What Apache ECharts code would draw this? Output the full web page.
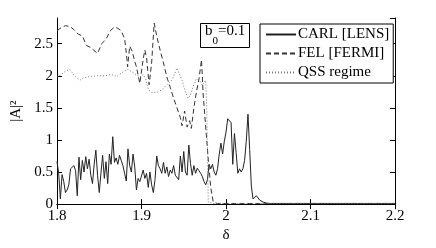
<!DOCTYPE html>
<html><head><meta charset="utf-8">
<script src="https://cdn.jsdelivr.net/npm/echarts@6/dist/echarts.min.js"></script>
<style>html,body{margin:0;padding:0;background:#fff}#c{width:436px;height:248px}</style>
</head><body><div id="c"></div>
<script>
// CARL [LENS]: values at delta = 1.800, 1.802, ... 2.200 (step 0.002)
const carlStart = 1.8;
const carlStep = 0.002;
const carlValues = [
0.66,0.48,0.08,0.46,0.35,0.18,0.22,0.30,0.55,0.58,
0.60,0.52,0.13,0.73,0.38,0.68,0.50,0.74,0.55,0.70,
0.45,0.32,0.62,0.84,0.45,0.18,0.48,0.76,0.40,0.66,
0.32,0.78,0.62,1.05,0.65,0.72,0.62,0.76,0.68,0.60,
0.48,0.36,0.86,0.60,0.50,0.78,0.58,0.22,0.40,0.35,
0.35,0.53,0.40,0.48,0.26,0.50,0.30,0.18,0.38,0.75,
0.60,0.55,0.48,0.65,0.48,0.58,0.43,0.53,0.48,0.60,
0.45,0.42,0.38,0.75,0.50,0.82,0.50,0.45,0.92,0.63,
0.45,0.60,0.48,0.56,0.52,0.48,0.43,0.35,0.30,0.38,
0.62,0.55,0.62,0.50,0.45,0.55,0.78,0.95,0.78,0.98,
1.12,1.33,1.32,1.27,0.62,1.10,0.80,0.48,0.55,0.50,
0.55,0.68,0.98,1.40,0.85,0.28,0.08,0.10,0.13,0.10,
0.06,0.04,0.03,0.02,0.015,0.01,0.01,0.01,0.01,0.01,
0.01,0.01,0.01,0.01,0.01,0.01,0.01,0.01,0.01,0.01,
0.01,0.01,0.01,0.01,0.01,0.01,0.01,0.01,0.01,0.01,
0.01,0.01,0.01,0.01,0.01,0.01,0.01,0.01,0.01,0.01,
0.01,0.01,0.01,0.01,0.01,0.01,0.01,0.01,0.01,0.01,
0.01,0.01,0.01,0.01,0.01,0.01,0.01,0.01,0.01,0.01,
0.01,0.01,0.01,0.01,0.01,0.01,0.01,0.01,0.01,0.01,
0.01,0.01,0.01,0.01,0.01,0.01,0.01,0.01,0.01,0.01,
0.01
];
// FEL [FERMI]: [delta, |A|^2]
const felPoints = [
[1.800,2.70],[1.805,2.75],[1.810,2.78],[1.815,2.77],[1.820,2.72],[1.825,2.65],
[1.830,2.62],[1.835,2.47],[1.840,2.44],[1.845,2.38],[1.848,2.35],[1.853,2.50],
[1.858,2.57],[1.863,2.70],[1.868,2.76],[1.872,2.74],[1.876,2.70],[1.880,2.58],
[1.882,2.36],[1.8836,2.14],[1.886,2.46],[1.889,2.38],[1.892,2.22],[1.894,2.14],
[1.898,1.88],[1.902,2.26],[1.904,2.40],[1.906,2.28],[1.909,1.86],[1.912,2.20],
[1.915,2.82],[1.918,2.62],[1.922,2.40],[1.926,2.20],[1.930,1.98],[1.934,1.82],
[1.938,1.65],[1.942,1.50],[1.946,1.35],[1.948,1.22],[1.951,1.45],[1.954,1.20],
[1.957,1.30],[1.959,1.18],[1.962,1.50],[1.965,1.75],[1.968,1.95],[1.971,2.25],
[1.973,1.70],[1.976,1.20],[1.979,0.70],[1.982,0.25],[1.985,0.03],[1.990,0.01],
[2.200,0.01]
];
// QSS regime: [delta, |A|^2]
const qssPoints = [
[1.800,1.98],[1.805,2.02],[1.810,2.07],[1.815,2.10],[1.819,2.03],[1.823,1.97],
[1.827,1.93],[1.832,1.97],[1.840,1.99],[1.848,2.00],[1.857,2.00],[1.864,2.02],
[1.871,1.99],[1.878,2.06],[1.884,2.10],[1.892,2.03],[1.898,1.98],[1.902,2.02],
[1.905,1.95],[1.908,1.79],[1.912,1.74],[1.918,1.74],[1.924,1.78],[1.930,1.86],
[1.936,1.93],[1.942,2.12],[1.948,1.93],[1.952,1.75],[1.955,1.65],[1.958,1.70],
[1.961,1.83],[1.965,1.95],[1.969,1.92],[1.972,1.85],[1.976,1.93],[1.977,1.60],
[1.978,0.90],[1.979,0.03],[1.985,0.01],[2.200,0.01]
];
const seriesNames = ['CARL [LENS]','FEL [FERMI]','QSS regime'];
const xTicks = [1.8, 1.9, 2.0, 2.1, 2.2];
const yTicks = [0, 0.5, 1, 1.5, 2, 2.5];

const carlData = carlValues.map((v,i)=>[+(carlStart + carlStep*i).toFixed(3), v]);
const serif = "'Liberation Serif', 'Times New Roman', serif";
const labelStyle = {fontFamily: serif, fontSize: 15, color: '#000'};
const axisLine = {show:true, lineStyle:{color:'#000', width:1}};
const tick = {show:true, inside:true, length:5, lineStyle:{color:'#000'}};

const chart = echarts.init(document.getElementById('c'), null, {renderer:'canvas'});
chart.setOption({
  animation:false,
  backgroundColor:'#fff',
  grid:{left:57, right:41, top:18, bottom:36},
  title:{
    text:'{b|b}{s|0}{b|=0.1}',
    left:200, top:23, padding:[1,5,1,5],
    borderColor:'#000', borderWidth:1, backgroundColor:'#fff',
    textStyle:{fontWeight:'normal', rich:{
      b:{fontFamily:serif, fontSize:15, fontWeight:'normal', color:'#000', lineHeight:18, verticalAlign:'top'},
      s:{fontFamily:serif, fontSize:11, fontWeight:'normal', color:'#000', lineHeight:10, padding:[12,0,0,0], verticalAlign:'top'}
    }}
  },
  legend:{
    data:seriesNames, orient:'vertical', left:260, top:24,
    padding:[3,4,3,5], itemGap:4, itemWidth:30, itemHeight:14,
    borderColor:'#000', borderWidth:1, backgroundColor:'#fff',
    itemStyle:{opacity:0},
    textStyle:{fontFamily:serif, fontSize:15, color:'#000', padding:[0,0,0,-3]},
    selectedMode:false
  },
  xAxis:[{
    type:'value', min:1.8, max:2.2, interval:0.1,
    axisLine:axisLine, axisTick:tick, splitLine:{show:false},
    axisLabel:{...labelStyle, margin:4, formatter:v=>{const t=xTicks.find(x=>Math.abs(x-v)<1e-6);return t===undefined?'':String(+t.toFixed(1));}},
    name:'δ', nameLocation:'middle', nameGap:17,
    nameTextStyle:{fontFamily:serif, fontSize:15, color:'#000'}
  },{
    type:'value', min:1.8, max:2.2, interval:0.1, position:'top',
    axisLine:axisLine, axisTick:tick, axisLabel:{show:false}, splitLine:{show:false}
  }],
  yAxis:[{
    type:'value', min:0, max:2.9, interval:0.5,
    axisLine:axisLine, axisTick:tick, splitLine:{show:false},
    axisLabel:{...labelStyle, margin:4, showMaxLabel:false, formatter:v=>{const t=yTicks.find(x=>Math.abs(x-v)<1e-6);return t===undefined?'':String(t);}},
    name:'|A|²', nameLocation:'middle', nameGap:24,
    nameTextStyle:{fontFamily:serif, fontSize:15, color:'#000'}
  },{
    type:'value', min:0, max:2.9, interval:0.5, position:'right',
    axisLine:axisLine, axisTick:tick, axisLabel:{show:false}, splitLine:{show:false}
  }],
  series:[
    {name:seriesNames[0], type:'line', data:carlData, symbol:'none', lineStyle:{color:'#222', width:1}, itemStyle:{color:'#222'}},
    {name:seriesNames[1], type:'line', data:felPoints, symbol:'none', lineStyle:{color:'#333', width:1, type:[5,3]}, itemStyle:{color:'#333'}},
    {name:seriesNames[2], type:'line', data:qssPoints, symbol:'none', lineStyle:{color:'#777', width:1, type:[1,2]}, itemStyle:{color:'#777'}}
  ]
});
</script></body></html>
